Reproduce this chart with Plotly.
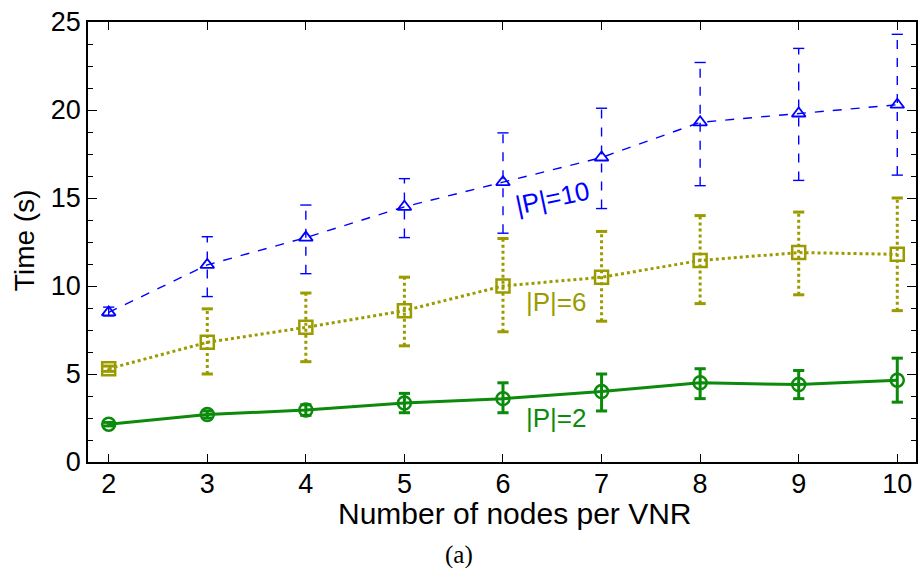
import plotly.graph_objects as go

nodes = [2, 3, 4, 5, 6, 7, 8, 9, 10]

p10_mean = [8.5, 11.2, 12.75, 14.5, 15.9, 17.3, 19.3, 19.8, 20.3]
p10_lo = [8.3, 9.4, 10.7, 12.75, 13.0, 14.4, 15.7, 16.0, 16.3]
p10_hi = [8.8, 12.8, 14.6, 16.1, 18.7, 20.1, 22.7, 23.5, 24.3]

p6_mean = [5.3, 6.8, 7.65, 8.6, 10.0, 10.5, 11.45, 11.9, 11.8]
p6_lo = [5.15, 5.0, 5.7, 6.6, 7.4, 8.0, 9.0, 9.5, 8.6]
p6_hi = [5.45, 8.7, 9.6, 10.5, 12.7, 13.1, 14.0, 14.2, 15.0]

p2_mean = [2.15, 2.7, 2.95, 3.35, 3.6, 4.0, 4.5, 4.4, 4.65]
p2_lo = [2.05, 2.5, 2.65, 2.8, 2.8, 2.9, 3.6, 3.6, 3.4]
p2_hi = [2.25, 2.9, 3.25, 3.9, 4.5, 5.0, 5.3, 5.2, 5.9]

labels = ["|P|=10", "|P|=6", "|P|=2"]
y_ticks = [0, 5, 10, 15, 20, 25]
x_title = "Number of nodes per VNR"
y_title = "Time (s)"
caption = "(a)"

BLUE = "#0000ff"
OLIVE = "#9b9b00"
GREEN = "#0b8a0b"
SANS = "Liberation Sans"

series = [
    (p10_mean, p10_lo, p10_hi, BLUE, "dash", "triangle-up-open", 1.4, 12),
    (p6_mean, p6_lo, p6_hi, OLIVE, "dot", "square-open", 3, 13),
    (p2_mean, p2_lo, p2_hi, GREEN, "solid", "circle-open", 3, 13),
]

fig = go.Figure()
for mean, lo, hi, color, dash, sym, w, msize in series:
    ex, ey = [], []
    for x, a, b in zip(nodes, lo, hi):
        ex += [x, x, None]
        ey += [a, b, None]
    fig.add_trace(go.Scatter(x=ex, y=ey, mode="lines",
                             line=dict(color=color, width=w, dash=dash),
                             hoverinfo="skip", showlegend=False))
    fig.add_trace(go.Scatter(x=nodes + nodes, y=lo + hi, mode="markers",
                             marker=dict(symbol="line-ew", size=8,
                                         line=dict(color=color, width=w)),
                             hoverinfo="skip", showlegend=False))
    fig.add_trace(go.Scatter(x=nodes, y=mean, mode="lines+markers",
                             line=dict(color=color, width=w, dash=dash),
                             marker=dict(symbol=sym, size=msize, color=color,
                                         line=dict(color=color, width=2.5 if w > 2 else 1.8)),
                             showlegend=False))

label_pos = [(6.5, 15.0, BLUE, -12), (6.54, 9.1, OLIVE, 0), (6.54, 2.5, GREEN, 0)]
for text, (lx, ly, col, ang) in zip(labels, label_pos):
    fig.add_annotation(x=lx, y=ly, text=text, showarrow=False, textangle=ang,
                       font=dict(family=SANS, size=26, color=col))

# axis titles and caption placed in paper coordinates (plot area 88..918 x 22..462)
fig.add_annotation(xref="paper", yref="paper", x=(516 - 88) / 830, y=(462 - 513) / 440,
                   xanchor="center", yanchor="middle", text=x_title, showarrow=False,
                   font=dict(family=SANS, size=30, color="black"))
fig.add_annotation(xref="paper", yref="paper", x=(24 - 88) / 830, y=(462 - 240) / 440,
                   xanchor="center", yanchor="middle", text=y_title, showarrow=False,
                   textangle=-90, font=dict(family=SANS, size=28, color="black"))
fig.add_annotation(xref="paper", yref="paper", x=(460 - 88) / 830, y=(462 - 555) / 440,
                   xanchor="center", yanchor="middle", text=caption, showarrow=False,
                   font=dict(family="Liberation Serif", size=25, color="black"))

axis_common = dict(showline=True, linecolor="black", linewidth=1.5, mirror="ticks",
                   ticks="inside", tickcolor="black", showgrid=False, zeroline=False,
                   tickfont=dict(family=SANS, size=27, color="black"))

fig.update_xaxes(range=[1.79, 10.19], tickvals=nodes, ticklen=8,
                 ticklabelstandoff=-3, **axis_common)
fig.update_yaxes(range=[0, 25], tickvals=y_ticks, ticklen=9,
                 minor=dict(dtick=1.25, ticks="inside", ticklen=5, tickcolor="black"),
                 **axis_common)

fig.update_layout(width=922, height=568, plot_bgcolor="white", paper_bgcolor="white",
                  margin=dict(l=88, r=4, t=22, b=106))

fig.write_html("out.html")
